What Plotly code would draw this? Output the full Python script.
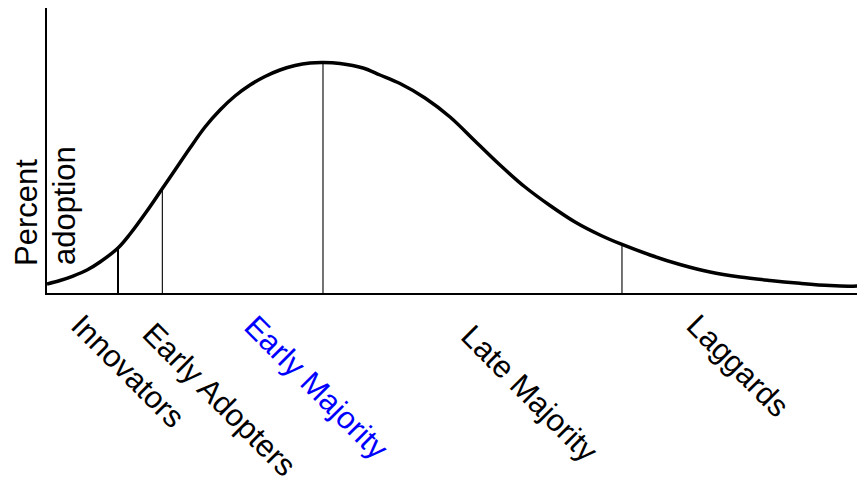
import plotly.graph_objects as go

# Adoption curve (x: time 0-100, y: percent adoption 0-100)
curve_x = [0, 1.59, 3.18, 4.89, 6.48, 8.68, 10.15, 12.22, 14.06, 15.65, 17.48, 19.32,
           21.15, 22.98, 24.82, 26.65, 28.48, 30.32, 32.15, 33.74, 35.82, 38.63, 40.71,
           43.15, 46.21, 49.27, 52.32, 55.38, 58.44, 61.49, 64.55, 67.60, 70.29, 73.72,
           77.38, 81.05, 84.72, 88.39, 92.05, 95.72, 98.17, 100]
curve_y = [3.16, 4.39, 5.96, 8.07, 10.88, 15.79, 20.70, 28.77, 36.49, 43.16, 50.88, 58.25,
           64.21, 69.12, 72.98, 75.96, 78.25, 79.82, 80.70, 80.88, 80.53, 78.95, 76.49,
           73.51, 68.42, 61.75, 53.33, 44.91, 37.19, 30.70, 24.91, 20.35, 17.02, 13.33,
           10.00, 7.37, 5.61, 4.39, 3.40, 2.60, 2.39, 2.67]

# Category boundaries (vertical lines)
boundary_x = [8.68, 14.1, 33.74, 70.29]
boundary_top = [15.8, 36.8, 80.9, 16.8]
boundary_width = [2, 1.1, 1.1, 1.1]

# Category labels
categories = ["Innovators", "Early Adopters", "Early Majority", "Late Majority", "Laggards"]
category_x = [9.9, 21.1, 32.9, 59.0, 84.4]
category_y = [-0.277, -0.372, -0.333, -0.351, -0.256]
category_color = ["black", "black", "#0000FF", "black", "black"]

FONT = "Liberation Sans, Arial, sans-serif"
FS = 31

fig = go.Figure()
fig.add_trace(go.Scatter(x=curve_x, y=curve_y, mode="lines",
                         line=dict(color="black", width=3.5, shape="spline", smoothing=1),
                         hoverinfo="skip", showlegend=False))
for bx, bt, bw in zip(boundary_x, boundary_top, boundary_width):
    fig.add_trace(go.Scatter(x=[bx, bx], y=[0, bt], mode="lines",
                             line=dict(color="black", width=bw),
                             hoverinfo="skip", showlegend=False))

for name, cx, cy, col in zip(categories, category_x, category_y, category_color):
    fig.add_annotation(x=cx, y=cy, xref="x", yref="paper", text=name, showarrow=False,
                       textangle=45, xanchor="center", yanchor="middle",
                       font=dict(family=FONT, size=FS, color=col))

fig.add_annotation(x=-0.0257, y=0.284, xref="paper", yref="paper", text="Percent",
                   showarrow=False, textangle=-90, xanchor="center", yanchor="middle",
                   font=dict(family=FONT, size=FS, color="black"))
fig.add_annotation(x=0.0208, y=0.305, xref="paper", yref="paper", text="adoption",
                   showarrow=False, textangle=-90, xanchor="center", yanchor="middle",
                   font=dict(family=FONT, size=FS, color="black"))

# The page body has an 8px margin, so the figure is offset by 8px; margins compensate.
fig.update_layout(
    width=865, height=480,
    margin=dict(l=39, r=8, t=0, b=195),
    paper_bgcolor="white", plot_bgcolor="white",
    showlegend=False,
    xaxis=dict(range=[0, 100], showline=True, linecolor="black", linewidth=1.5,
               showgrid=False, zeroline=False, showticklabels=False, ticks=""),
    yaxis=dict(range=[0, 100], showline=True, linecolor="black", linewidth=1.5,
               showgrid=False, zeroline=False, showticklabels=False, ticks=""),
)

fig.write_html("out.html")
